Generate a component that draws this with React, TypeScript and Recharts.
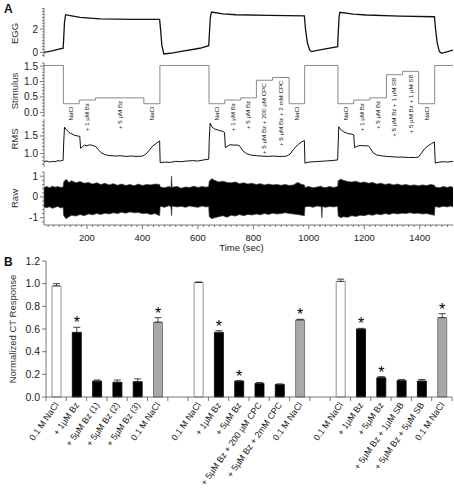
import React from 'react';
import {
  ComposedChart, AreaChart, Area, Line, Scatter, XAxis, YAxis,
  BarChart, Bar, Cell, ErrorBar, LabelList,
} from 'recharts';

const FONT = "'Liberation Sans', Arial, Helvetica, sans-serif";
const TIME_DOMAIN: [number, number] = [45, 1520];
const W = 454;

// ---------- Panel A : EGG ----------
const eggT = [45, 70, 95, 114, 116, 119, 123, 140, 175, 247, 366, 462, 466, 470, 477, 500, 535, 607, 639,
  642, 645, 649, 690, 737, 857, 984, 988, 995, 1003, 1009, 1060, 1104,
  1106, 1109, 1112, 1160, 1208, 1328, 1453, 1457, 1463, 1471, 1479, 1520];
const eggV = [0.0, 0.1, 0.25, 0.35, 1.2, 2.6, 3.23, 3.15, 3.0, 2.86, 2.83, 2.82, 1.8, 0.6, -0.14, -0.08, 0.06, 0.35, 0.57,
  1.8, 3.0, 3.45, 3.3, 3.22, 3.17, 3.13, 2.0, 0.8, 0.2, 0.06, 0.3, 0.49,
  1.6, 3.0, 3.43, 3.28, 3.2, 3.11, 3.05, 2.0, 0.8, 0.06, -0.09, 0.2];
const eggMajor = [0, 2];

// ---------- Panel A : Stimulus ----------
const stimT = [45, 115, 172, 231, 405, 463, 640, 697, 754, 811, 869, 929, 985, 1105, 1162, 1220, 1280, 1338, 1396, 1454, 1520];
const stimV = [1.52, 0.28, 0.4, 0.47, 0.28, 1.52, 0.28, 0.4, 0.47, 1.04, 1.13, 0.28, 1.52, 0.28, 0.4, 0.47, 1.22, 1.33, 0.28, 1.52, 1.52];
const stimMajor = [0, 0.5, 1.0, 1.5];
const stimLabelT = [143, 201, 318, 434, 668, 725, 782, 840, 899, 957, 1133, 1191, 1250, 1309, 1367, 1425];
const stimLabelV = [0.28, 0.4, 0.47, 0.28, 0.28, 0.4, 0.47, 1.04, 1.13, 0.28, 0.28, 0.4, 0.47, 1.22, 1.33, 0.28];
const stimLabelText = [
  'NaCl', '+ 1 µM Bz', '+ 5 µM Bz', 'NaCl',
  'NaCl', '+ 1 µM Bz', '+ 5 µM Bz', '+ 5 µM Bz + 200 µM CPC', '+ 5 µM Bz + 2 mM CPC', 'NaCl',
  'NaCl', '+ 1 µM Bz', '+ 5 µM Bz', '+ 5 µM Bz + 1 µM SB', '+ 5 µM Bz + 1 µM SB', 'NaCl',
];

// ---------- Panel A : RMS ----------
const rmsT = [45, 55, 65, 75, 85, 95, 105, 114,
  116, 119, 125, 135, 145, 155, 165, 174, 177, 182, 190, 200, 210, 220, 230, 240, 250, 262, 275, 290, 305, 320, 340, 360, 380, 400, 412, 425, 438, 450, 462,
  464, 480, 500, 520, 540, 560, 580, 600, 620, 639,
  641, 644, 650, 660, 675, 690, 696, 699, 705, 715, 730, 745, 752, 762, 775, 790, 810, 830, 850, 870, 890, 905, 920, 932, 945, 960, 972, 984,
  986, 1000, 1020, 1040, 1060, 1080, 1104,
  1106, 1108, 1115, 1125, 1140, 1155, 1162, 1165, 1172, 1185, 1200, 1215, 1222, 1232, 1245, 1260, 1280, 1300, 1320, 1340, 1360, 1380, 1395, 1405, 1418, 1430, 1442, 1453,
  1456, 1470, 1485, 1500, 1520];
const rmsV = [0.77, 0.79, 0.76, 0.78, 0.77, 0.8, 0.79, 0.81,
  1.3, 1.75, 1.68, 1.6, 1.56, 1.52, 1.5, 1.49, 1.15, 1.18, 1.24, 1.22, 1.25, 1.23, 1.21, 1.12, 1.03, 0.98, 0.95, 0.94, 0.93, 0.94, 0.92, 0.93, 0.92, 0.93, 0.98, 1.1, 1.22, 1.29, 1.36,
  0.74, 0.76, 0.75, 0.78, 0.77, 0.79, 0.8, 0.79, 0.82, 0.84,
  1.4, 1.86, 1.76, 1.7, 1.66, 1.63, 1.6, 1.17, 1.2, 1.25, 1.24, 1.24, 1.2, 1.08, 1.0, 0.96, 0.94, 0.93, 0.92, 0.93, 0.92, 0.92, 0.93, 0.98, 1.12, 1.25, 1.32, 1.37,
  0.73, 0.76, 0.77, 0.78, 0.79, 0.8, 0.82,
  1.3, 1.76, 1.68, 1.62, 1.57, 1.55, 1.53, 1.17, 1.2, 1.23, 1.22, 1.22, 1.15, 1.02, 0.96, 0.94, 0.92, 0.91, 0.9, 0.9, 0.89, 0.89, 0.9, 1.0, 1.14, 1.22, 1.28, 1.33,
  0.73, 0.76, 0.77, 0.76, 0.78];
const rmsMajor = [1.0, 1.5];

// ---------- Panel A : Raw (envelope of the recorded trace) ----------
const rawT = [45, 55, 65, 75, 85, 95, 105, 114,
  116, 125, 135, 145, 160, 175, 190, 205, 220, 235, 250, 265, 280, 295, 310, 325, 340, 355, 370, 385, 400, 415, 430, 445, 462,
  464, 480, 495, 503, 505, 507, 525, 540, 555, 570, 585, 600, 615, 630, 639,
  641, 650, 660, 675, 690, 705, 720, 735, 750, 765, 780, 795, 810, 825, 840, 855, 870, 885, 900, 915, 930, 945, 960, 975, 984,
  986, 1000, 1015, 1030, 1045, 1047, 1049, 1060, 1075, 1090, 1104,
  1106, 1115, 1125, 1140, 1155, 1170, 1185, 1200, 1215, 1230, 1245, 1260, 1275, 1290, 1305, 1320, 1335, 1350, 1365, 1380, 1395, 1410, 1425, 1440, 1453,
  1455, 1470, 1485, 1500, 1510, 1520];
const rawHi = [0.45, 0.5, 0.44, 0.52, 0.47, 0.5, 0.46, 0.48,
  0.72, 0.85, 0.7, 0.78, 0.68, 0.74, 0.66, 0.7, 0.62, 0.68, 0.6, 0.66, 0.58, 0.64, 0.56, 0.62, 0.55, 0.6, 0.54, 0.62, 0.55, 0.6, 0.58, 0.62, 0.6,
  0.48, 0.44, 0.5, 0.46, 1.0, 0.47, 0.5, 0.42, 0.48, 0.45, 0.52, 0.46, 0.5, 0.47, 0.5,
  0.75, 0.88, 0.8, 0.72, 0.76, 0.7, 0.68, 0.72, 0.64, 0.68, 0.62, 0.66, 0.6, 0.64, 0.58, 0.62, 0.58, 0.6, 0.56, 0.6, 0.55, 0.58, 0.7, 0.6, 0.58,
  0.46, 0.5, 0.44, 0.48, 0.52, 0.5, 0.47, 0.45, 0.5, 0.46, 0.5,
  0.78, 0.85, 0.8, 0.74, 0.72, 0.76, 0.68, 0.72, 0.66, 0.7, 0.62, 0.66, 0.6, 0.64, 0.58, 0.62, 0.56, 0.6, 0.55, 0.58, 0.54, 0.58, 0.55, 0.6, 0.56,
  0.48, 0.44, 0.5, 0.46, 0.5, 0.47];
const rawLo = [-0.48, -0.52, -0.47, -0.55, -0.5, -0.46, -0.53, -0.5,
  -0.9, -1.05, -0.95, -0.88, -0.92, -0.85, -0.9, -0.82, -0.86, -0.8, -0.84, -0.78, -0.82, -0.76, -0.8, -0.74, -0.78, -0.72, -0.76, -0.75, -0.8, -0.78, -0.85, -0.8, -0.9,
  -0.45, -0.5, -0.42, -0.47, -0.9, -0.44, -0.48, -0.45, -0.5, -0.43, -0.47, -0.5, -0.44, -0.48, -0.46,
  -0.95, -1.05, -1.0, -0.95, -0.9, -0.98, -0.88, -0.92, -0.85, -0.9, -0.84, -0.87, -0.82, -0.86, -0.8, -0.84, -0.78, -0.82, -0.8, -0.76, -0.8, -0.82, -0.85, -0.88, -0.9,
  -0.48, -0.45, -0.5, -0.43, -0.47, -1.0, -0.46, -0.5, -0.46, -0.48, -0.45,
  -0.92, -1.0, -0.95, -0.98, -0.9, -0.94, -0.88, -0.9, -0.85, -0.88, -0.82, -0.86, -0.8, -0.84, -0.78, -0.82, -0.78, -0.8, -0.76, -0.8, -0.78, -0.82, -0.8, -0.85, -0.88,
  -0.46, -0.5, -0.45, -0.48, -0.44, -0.47];
const rawMajor = [-1, 0, 1];
const timeMajor = [200, 400, 600, 800, 1000, 1200, 1400];

// ---------- Panel B ----------
const bLabels = [
  '0.1 M NaCl', '+ 1µM Bz', '+ 5µM Bz (1)', '+ 5µM Bz (2)', '+ 5µM Bz (3)', '0.1 M NaCl', '',
  '0.1 M NaCl', '+ 1µM Bz', '+ 5µM Bz', '+ 5µM Bz + 200 µM CPC', '+ 5µM Bz + 2mM CPC', '0.1 M NaCl', '',
  '0.1 M NaCl', '+ 1µM Bz', '+ 5µM Bz', '+ 5µM Bz + 1µM SB', '+ 5µM Bz + 5µM SB', '0.1 M NaCl',
];
const bValues = [0.98, 0.57, 0.14, 0.13, 0.135, 0.66, null, 1.01, 0.57, 0.14, 0.12, 0.11, 0.68, null, 1.02, 0.6, 0.17, 0.145, 0.14, 0.7];
const bErrors = [0.02, 0.045, 0.01, 0.02, 0.025, 0.04, null, 0.005, 0.015, 0.005, 0.008, 0.006, 0.006, null, 0.02, 0.006, 0.01, 0.01, 0.015, 0.035];
const bKind = ['w', 'k', 'k', 'k', 'k', 'g', '', 'w', 'k', 'k', 'k', 'k', 'g', '', 'w', 'k', 'k', 'k', 'k', 'g'];
const bSignificant = [0, 1, 0, 0, 0, 1, 0, 0, 1, 1, 0, 0, 1, 0, 0, 1, 1, 0, 0, 1];
const bTicks = [0, 0.2, 0.4, 0.6, 0.8, 1.0, 1.2];

// ---------- derived tables ----------
const eggData = eggT.map((t, i) => ({ t, v: eggV[i] }));
const stimData = stimT.map((t, i) => ({ t, v: stimV[i] }));
const stimLabelData = stimLabelT.map((t, i) => ({ t, v: stimLabelV[i], text: stimLabelText[i] }));
const rmsData = rmsT.map((t, i) => ({ t, v: rmsV[i] }));
const rawData = rawT.map((t, i) => ({ t, r: [rawLo[i], rawHi[i]] }));
const bData = bLabels.map((_, i) => ({
  id: i,
  v: bValues[i],
  e: bErrors[i] == null ? null : [0, bErrors[i] as number],
}));

const steps = (from: number, to: number, step: number) => {
  const out: number[] = [];
  for (let v = from; v <= to + 1e-9; v += step) out.push(Math.round(v * 1000) / 1000);
  return out;
};

const AXIS = '#555';
const TXT = '#222';

const makeYTick = (majors: number[], fmt: (v: number) => string) => (props: any) => {
  const { x, y, payload } = props;
  const v = payload.value;
  const major = majors.some((m) => Math.abs(m - v) < 1e-6);
  return (
    <g>
      <line x1={x} x2={x - (major ? 4 : 2)} y1={y} y2={y} stroke={AXIS} strokeWidth={0.8} />
      {major && (
        <text x={x - 6} y={y} dy="0.35em" textAnchor="end" fontSize={10} fill={TXT} fontFamily={FONT}>
          {fmt(v)}
        </text>
      )}
    </g>
  );
};

const TimeTick = (props: any) => {
  const { x, y, payload } = props;
  const v = payload.value;
  const major = timeMajor.includes(v);
  return (
    <g>
      <line x1={x} x2={x} y1={y} y2={y + (major ? 4 : 2)} stroke={AXIS} strokeWidth={0.8} />
      {major && (
        <text x={x} y={y + 9} dy="0.71em" textAnchor="middle" fontSize={9.5} fill={TXT} fontFamily={FONT}>
          {v}
        </text>
      )}
    </g>
  );
};

const axisTitle = (text: string, dy = 0) => (props: any) => {
  const vb = props.viewBox || {};
  const cy = (vb.y ?? 0) + (vb.height ?? 0) / 2 + dy;
  return (
    <text x={14} y={cy} transform={`rotate(-90, 14, ${cy})`} textAnchor="middle" dominantBaseline="central"
      fontSize={9.5} fill="#333" fontFamily={FONT}>
      {text}
    </text>
  );
};

const timeTitle = (props: any) => {
  const vb = props.viewBox || {};
  const cx = (vb.x ?? 0) + (vb.width ?? 0) / 2 - 7;
  return (
    <text x={cx} y={(vb.y ?? 0) + 19} dy="0.71em" textAnchor="middle" fontSize={9.5} fill={TXT} fontFamily={FONT}>
      Time (sec)
    </text>
  );
};

const StimLabel = (props: any) => {
  const { cx, cy, payload } = props;
  if (cx == null || cy == null) return <g />;
  return (
    <text transform={`translate(${cx + 2},${cy + 3}) rotate(-90)`} textAnchor="end" fontSize={6.2}
      fill="#222" fontFamily={FONT}>
      {payload.text}
    </text>
  );
};

const hiddenX = (clip: boolean) => (
  <XAxis type="number" dataKey="t" domain={TIME_DOMAIN} allowDataOverflow={clip} hide />
);

const yAxisA = (domain: [number, number], majors: number[], minors: number[], fmt: (v: number) => string, title: string, dy = 0, clip = true) => (
  <YAxis
    type="number"
    domain={domain}
    allowDataOverflow={clip}
    ticks={minors}
    interval={0}
    tick={makeYTick(majors, fmt)}
    tickLine={false}
    tickSize={0}
    tickMargin={0}
    width={30}
    axisLine={{ stroke: AXIS, strokeWidth: 0.8 }}
    label={axisTitle(title, dy)}
  />
);

// Panel B pieces
const B_LEFT = 16;
const B_YW = 30;
const B_RIGHT = 2;
const SLOT = (W - B_LEFT - B_YW - B_RIGHT) / bLabels.length;

const BXTick = (props: any) => {
  const { x, y, payload } = props;
  const i = payload.value as number;
  return (
    <g>
      <line x1={x - SLOT / 2} x2={x - SLOT / 2} y1={y} y2={y + 4} stroke={AXIS} strokeWidth={0.8} />
      {i === bLabels.length - 1 && (
        <line x1={x + SLOT / 2} x2={x + SLOT / 2} y1={y} y2={y + 4} stroke={AXIS} strokeWidth={0.8} />
      )}
      <text transform={`translate(${x + 3},${y + 8}) rotate(-55)`} textAnchor="end" fontSize={8.9}
        fill={TXT} fontFamily={FONT}>
        {bLabels[i]}
      </text>
    </g>
  );
};

const BYTick = (props: any) => {
  const { x, y, payload } = props;
  return (
    <g>
      <line x1={x} x2={x - 4} y1={y} y2={y} stroke={AXIS} strokeWidth={0.8} />
      <text x={x - 6} y={y} dy="0.35em" textAnchor="end" fontSize={10.5} fill={TXT} fontFamily={FONT}>
        {Number(payload.value).toFixed(1)}
      </text>
    </g>
  );
};

const bTitle = (props: any) => {
  const vb = props.viewBox || {};
  const cy = (vb.y ?? 0) + (vb.height ?? 0) / 2;
  return (
    <text x={12} y={cy} transform={`rotate(-90, 12, ${cy})`} textAnchor="middle" dominantBaseline="central"
      fontSize={9.5} fill="#333" fontFamily={FONT}>
      Normalized CT Response
    </text>
  );
};

// LabelList is keyed by the category id, so the index is the true data index
const StarLabel = (props: any) => {
  const { x, y, width, height, value } = props;
  const i = Number(value);
  const barValue = bValues[i];
  if (!bSignificant[i] || !barValue || !height) return null;
  const perUnit = height / barValue;
  const errTop = y - (bErrors[i] ?? 0) * perUnit;
  return (
    <text x={x + width / 2} y={errTop + 1} textAnchor="middle" fontSize={16} fill="#000" fontFamily={FONT}>
      *
    </text>
  );
};

const fillOf = (k: string) => (k === 'w' ? '#ffffff' : k === 'g' ? '#a8a8a8' : '#000000');
const strokeOf = (k: string) => (k === 'w' ? '#777777' : k === 'g' ? '#666666' : '#000000');

export default function App() {
  return (
    <div style={{ position: 'absolute', left: 0, top: 0, width: W, height: 498, background: '#fff', fontFamily: FONT }}>
      <style>{'.recharts-surface{overflow:visible}.recharts-wrapper{overflow:visible}'}</style>

      {/* EGG */}
      <div style={{ position: 'absolute', left: 0, top: 0, zIndex: 1 }}>
        <ComposedChart width={W} height={60} margin={{ top: 8, right: 1, bottom: 3, left: 14 }}>
          {hiddenX(true)}
          {yAxisA([-0.4, 3.8], eggMajor, steps(-0.25, 3.75, 0.25), (v) => String(v), 'EGG', 1)}
          <Line data={eggData} dataKey="v" type="linear" stroke="#111" strokeWidth={1.3} dot={false} isAnimationActive={false} />
        </ComposedChart>
      </div>

      {/* Stimulus */}
      <div style={{ position: 'absolute', left: 0, top: 60, zIndex: 3 }}>
        <ComposedChart width={W} height={60} margin={{ top: 3, right: 1, bottom: 3, left: 14 }}>
          {hiddenX(false)}
          {yAxisA([-0.15, 1.6], stimMajor, steps(-0.1, 1.6, 0.1), (v) => v.toFixed(1), 'Stimulus', 1, false)}
          <Line data={stimData} dataKey="v" type="stepAfter" stroke="#8a8a8a" strokeWidth={1} dot={false} isAnimationActive={false} />
          <Scatter data={stimLabelData} dataKey="v" shape={StimLabel} isAnimationActive={false} />
        </ComposedChart>
      </div>

      {/* RMS */}
      <div style={{ position: 'absolute', left: 0, top: 116, zIndex: 2 }}>
        <ComposedChart width={W} height={54} margin={{ top: 3, right: 1, bottom: 3, left: 14 }}>
          {hiddenX(true)}
          {yAxisA([0.62, 1.98], rmsMajor, steps(0.7, 1.9, 0.1), (v) => v.toFixed(1), 'RMS', -4)}
          <Line data={rmsData} dataKey="v" type="linear" stroke="#111" strokeWidth={1} dot={false} isAnimationActive={false} />
        </ComposedChart>
      </div>

      {/* Raw + time axis */}
      <div style={{ position: 'absolute', left: 0, top: 169, zIndex: 1 }}>
        <AreaChart width={W} height={86} data={rawData} margin={{ top: 3, right: 1, bottom: 0, left: 14 }}>
          <XAxis
            type="number"
            dataKey="t"
            domain={TIME_DOMAIN}
            allowDataOverflow
            ticks={steps(60, 1500, 20)}
            interval={0}
            tick={TimeTick}
            tickLine={false}
            tickSize={0}
            tickMargin={0}
            height={30}
            axisLine={{ stroke: AXIS, strokeWidth: 0.8 }}
            label={timeTitle}
          />
          {yAxisA([-1.35, 1.2], rawMajor, steps(-1.2, 1.2, 0.2), (v) => String(v), 'Raw', 0)}
          <Area dataKey="r" type="linear" stroke="#3a3a3a" strokeWidth={0.7} fill="#000" fillOpacity={1} isAnimationActive={false} />
        </AreaChart>
      </div>

      {/* Panel B */}
      <div style={{ position: 'absolute', left: 0, top: 255, zIndex: 1 }}>
        <BarChart width={W} height={243} data={bData} margin={{ top: 6, right: B_RIGHT, bottom: 0, left: B_LEFT }} barCategoryGap={0}>
          <XAxis
            dataKey="id"
            type="category"
            interval={0}
            tick={BXTick}
            tickLine={false}
            tickSize={0}
            tickMargin={0}
            height={101}
            axisLine={{ stroke: AXIS, strokeWidth: 0.8 }}
          />
          <YAxis
            type="number"
            domain={[0, 1.2]}
            ticks={bTicks}
            interval={0}
            tick={BYTick}
            tickLine={false}
            tickSize={0}
            tickMargin={0}
            width={B_YW}
            axisLine={{ stroke: AXIS, strokeWidth: 0.8 }}
            label={bTitle}
          />
          <Bar dataKey="v" barSize={9} isAnimationActive={false}>
            {bData.map((d, i) => (
              <Cell key={i} fill={fillOf(bKind[i])} stroke={strokeOf(bKind[i])} strokeWidth={0.8} />
            ))}
            <ErrorBar dataKey="e" width={3.5} stroke="#333" strokeWidth={0.9} isAnimationActive={false} />
            <LabelList dataKey="id" content={StarLabel} />
          </Bar>
        </BarChart>
      </div>

      {/* Panel letters */}
      <svg width={W} height={498} style={{ position: 'absolute', left: 0, top: 0, zIndex: 5, pointerEvents: 'none' }}>
        <text x={4} y={13} fontSize={12} fontWeight="bold" fill="#111" fontFamily={FONT}>A</text>
        <text x={4} y={266} fontSize={12} fontWeight="bold" fill="#111" fontFamily={FONT}>B</text>
      </svg>
    </div>
  );
}
